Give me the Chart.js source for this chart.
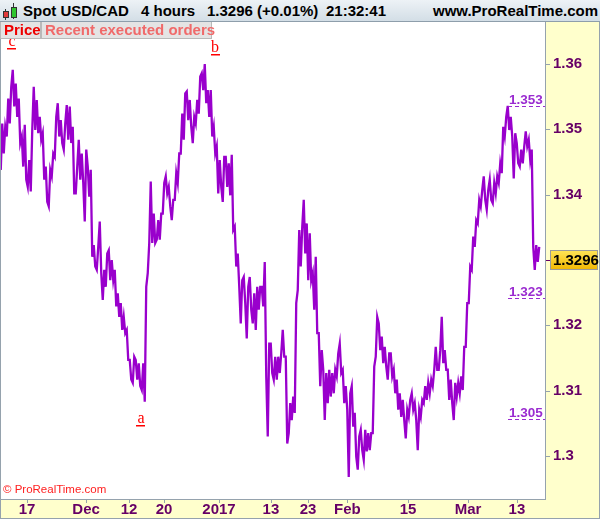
<!DOCTYPE html>
<html><head><meta charset="utf-8">
<script src="https://cdn.jsdelivr.net/npm/chart.js@4/dist/chart.umd.min.js"></script>
<style>
html,body{margin:0;padding:0;background:#fff;}
#wrap{position:relative;width:600px;height:519px;overflow:hidden;font-family:"Liberation Sans",Arial,sans-serif;}
#c{position:absolute;left:0;top:0;}
#hdr{position:absolute;left:0;top:0;width:600px;height:22px;background:linear-gradient(#edf2f6,#d3dee6);border-bottom:1px solid #8e9eab;box-sizing:border-box;}
.ht{position:absolute;top:1px;line-height:20px;font-size:15px;font-weight:bold;color:#000;white-space:nowrap;}
.tab{position:absolute;top:22px;height:17px;box-sizing:border-box;background:#e4e4e4;border:1px solid #b9b9b9;border-top:none;font-size:15px;font-weight:bold;line-height:16px;white-space:nowrap;}
.wick{position:absolute;width:1px;background:#333;}
.body{position:absolute;border:1px solid #333;box-sizing:border-box;}
</style></head>
<body>
<div id="wrap">
<canvas id="c" width="600" height="519"></canvas>
<div id="hdr">
  <div class="wick" style="left:5px;top:9px;height:11px"></div>
  <div class="body" style="left:3px;top:11px;width:6px;height:7px;background:#e03a3a"></div>
  <div class="wick" style="left:13px;top:3px;height:16px"></div>
  <div class="body" style="left:11px;top:7px;width:6px;height:11px;background:#2fc52f"></div>
  <span class="ht" style="left:23px">Spot USD/CAD</span>
  <span class="ht" style="left:141px">4 hours</span>
  <span class="ht" style="left:207px">1.3296 (+0.01%)</span>
  <span class="ht" style="left:326px">21:32:41</span>
  <span class="ht" style="left:433px">www.ProRealTime.com</span>
</div>
<div class="tab" style="left:0;width:41px;color:#ee0000;padding-left:3px">Price</div>
<div class="tab" style="left:41px;width:171px;color:#f06a6a;padding-left:3px">Recent executed orders</div>
</div>
<script>
// half-day slot ranges (high / low), USD/CAD, from mid-Nov 2016 to mid-Mar 2017
const highs = [
1.3509,1.3504,1.3547,1.3565,1.3591,1.3570,1.3547,1.3489,1.3507,1.3453,
1.3499,1.3565,1.3545,1.3519,1.3494,1.3443,1.3438,1.3463,1.3519,1.3540,
1.3514,1.3509,1.3537,1.3535,1.3504,1.3443,1.3484,1.3463,1.3469,1.3443,
1.3438,1.3323,1.3320,1.3359,1.3285,1.3310,1.3315,1.3300,1.3285,1.3249,
1.3234,1.3213,1.3193,1.3147,1.3152,1.3147,1.3142,1.3142,1.3259,1.3326,
1.3420,1.3371,1.3361,1.3371,1.3418,1.3428,1.3412,1.3392,1.3433,1.3463,
1.3524,1.3555,1.3558,1.3545,1.3519,1.3545,1.3581,1.3586,1.3600,1.3560,
1.3560,1.3504,1.3474,1.3453,1.3458,1.3458,1.3448,1.3461,1.3351,1.3310,
1.3269,1.3274,1.3259,1.3274,1.3249,1.3259,1.3259,1.3259,1.3297,1.3172,
1.3172,1.3152,1.3152,1.3157,1.3193,1.3152,1.3081,1.3091,1.3234,1.3346,
1.3351,1.3392,1.3356,1.3341,1.3280,1.3305,1.3188,1.3162,1.3127,1.3132,
1.3127,1.3132,1.3157,1.3172,1.3132,1.3107,1.3096,1.3107,1.3066,1.3030,
1.3040,1.3040,1.3035,1.3035,1.3137,1.3213,1.3203,1.3183,1.3167,1.3157,
1.3157,1.3132,1.3117,1.3096,1.3086,1.3071,1.3086,1.3096,1.3081,1.3071,
1.3086,1.3107,1.3112,1.3117,1.3132,1.3167,1.3162,1.3213,1.3162,1.3132,
1.3117,1.3112,1.3112,1.3122,1.3167,1.3234,1.3290,1.3336,1.3361,1.3392,
1.3407,1.3428,1.3407,1.3423,1.3418,1.3428,1.3448,1.3504,1.3519,1.3536,
1.3519,1.3494,1.3479,1.3469,1.3474,1.3497,1.3484,1.3469,1.3323,1.3320
];
const lows = [
1.3438,1.3463,1.3489,1.3509,1.3535,1.3519,1.3479,1.3443,1.3423,1.3412,
1.3405,1.3499,1.3494,1.3484,1.3423,1.3389,1.3382,1.3428,1.3458,1.3489,
1.3479,1.3469,1.3484,1.3479,1.3402,1.3402,1.3423,1.3418,1.3359,1.3397,
1.3305,1.3290,1.3285,1.3280,1.3239,1.3259,1.3269,1.3269,1.3229,1.3213,
1.3193,1.3188,1.3147,1.3117,1.3112,1.3117,1.3107,1.3101,1.3083,1.3280,
1.3326,1.3326,1.3331,1.3331,1.3371,1.3402,1.3382,1.3361,1.3392,1.3418,
1.3463,1.3484,1.3514,1.3504,1.3479,1.3509,1.3524,1.3560,1.3540,1.3519,
1.3489,1.3463,1.3402,1.3412,1.3389,1.3412,1.3399,1.3346,1.3290,1.3259,
1.3203,1.3234,1.3180,1.3224,1.3203,1.3193,1.3224,1.3229,1.3122,1.3030,
1.3127,1.3117,1.3117,1.3127,1.3152,1.3019,1.3035,1.3055,1.3066,1.3254,
1.3290,1.3310,1.3269,1.3269,1.3224,1.3188,1.3107,1.3132,1.3055,1.3081,
1.3091,1.3096,1.3122,1.3127,1.3081,1.3071,1.2968,1.3045,1.2999,1.2979,
1.3009,1.2994,1.3007,1.3009,1.3035,1.3152,1.3162,1.3142,1.3137,1.3117,
1.3122,1.3096,1.3071,1.3060,1.3055,1.3027,1.3060,1.3071,1.3055,1.3009,
1.3060,1.3081,1.3086,1.3096,1.3107,1.3132,1.3132,1.3142,1.3132,1.3086,
1.3081,1.3055,1.3091,1.3096,1.3101,1.3167,1.3234,1.3285,1.3320,1.3356,
1.3382,1.3392,1.3377,1.3392,1.3387,1.3402,1.3418,1.3433,1.3489,1.3499,
1.3489,1.3425,1.3448,1.3443,1.3448,1.3474,1.3453,1.3320,1.3285,1.3297
];
const xTickLabels = ['17','Dec','12','20','2017','13','23','Feb','15','Mar','13'];
const xTickSlots  = [8.5, 28.2, 42.5, 54.2, 72.5, 89.8, 102.2, 115.3, 135.5, 155.5, 171.8];
const yTickValues = [1.30, 1.31, 1.32, 1.33, 1.34, 1.35, 1.36];
const lastPrice = 1.3296;
const levelValues = [1.3536, 1.3242, 1.3057];
const levelLabels = ['1.353', '1.323', '1.305'];
const waveLabels = ['c', 'b', 'a'];
const waveSlots  = [3.5, 71.2, 46.5];
const waveLevels = [1.3628, 1.3619, 1.3051];

const PURPLE = '#9900cc';
const AXIS_TXT = '#660066';
const BORDER = '#95a2ad';

// Each half-day slot is traced from its low to its high (or high to low),
// in the order that leads toward the next slot.
const pathPoints = [];
highs.forEach((h, i) => {
  const lo = lows[i];
  const mid = (h + lo) / 2;
  const j = i < highs.length - 1 ? i + 1 : i - 1;
  const nextMid = (highs[j] + lows[j]) / 2;
  const up = i < highs.length - 1 ? nextMid >= mid : nextMid < mid;
  const first = up ? lo : h, second = up ? h : lo;
  pathPoints.push({x: i - 0.25, y: first}, {x: i + 0.25, y: second});
});

const overlay = {
  id: 'overlay',
  beforeDraw(chart) {
    const {ctx, chartArea: a, width, height} = chart;
    ctx.save();
    ctx.fillStyle = '#ffffff';
    ctx.fillRect(0, 0, width, height);
    ctx.fillStyle = '#ffffcc';
    ctx.fillRect(a.right, a.top, width - a.right, height - a.top);
    ctx.fillRect(0, a.bottom, a.right, height - a.bottom);
    ctx.restore();
  },
  afterDatasetsDraw(chart) {
    const {ctx, chartArea: a, scales: {x, y}} = chart;
    ctx.save();
    ctx.font = 'bold 13.5px "Liberation Sans", Arial, sans-serif';
    ctx.textAlign = 'left';
    ctx.textBaseline = 'alphabetic';
    levelValues.forEach((v, i) => {
      const py = Math.round(y.getPixelForValue(v)) + 0.5;
      ctx.strokeStyle = '#9a2bd0';
      ctx.lineWidth = 1;
      ctx.setLineDash([4, 3]);
      ctx.beginPath();
      ctx.moveTo(508, py); ctx.lineTo(a.right, py);
      ctx.stroke();
      ctx.setLineDash([]);
      ctx.fillStyle = '#9a2bd0';
      ctx.fillText(levelLabels[i], 509, py - 3);
    });
    ctx.font = '16px "Liberation Serif", "Times New Roman", serif';
    ctx.textAlign = 'center';
    waveLabels.forEach((t, i) => {
      const px = x.getPixelForValue(waveSlots[i]);
      const py = y.getPixelForValue(waveLevels[i]);
      ctx.fillStyle = '#ff0000';
      ctx.fillText(t, px, py);
      ctx.fillRect(Math.round(px - 4.5), Math.round(py + 2), 9, 1.5);
    });
    ctx.font = '11.5px "Liberation Sans", Arial, sans-serif';
    ctx.textAlign = 'left';
    ctx.fillStyle = '#ff2020';
    ctx.fillText('\u00a9 ProRealTime.com', 3, 493);
    ctx.restore();
  },
  afterDraw(chart) {
    const {ctx, chartArea: a, scales: {x, y}, width, height} = chart;
    ctx.save();
    ctx.strokeStyle = BORDER;
    ctx.lineWidth = 1;
    ctx.beginPath();
    ctx.moveTo(0.5, a.top); ctx.lineTo(0.5, height);
    ctx.moveTo(a.right + 0.5, a.top); ctx.lineTo(a.right + 0.5, a.bottom + 1);
    ctx.moveTo(0, a.bottom + 0.5); ctx.lineTo(a.right + 1, a.bottom + 0.5);
    ctx.moveTo(width - 0.5, a.top); ctx.lineTo(width - 0.5, height);
    ctx.moveTo(0, height - 0.5); ctx.lineTo(width, height - 0.5);
    yTickValues.forEach(v => {
      const py = Math.round(y.getPixelForValue(v)) + 0.5;
      ctx.moveTo(a.right + 1, py); ctx.lineTo(a.right + 5, py);
    });
    xTickSlots.forEach(v => {
      const px = Math.round(x.getPixelForValue(v)) + 0.5;
      ctx.moveTo(px, a.bottom + 1); ctx.lineTo(px, a.bottom + 4);
    });
    ctx.stroke();
    const py = Math.round(y.getPixelForValue(lastPrice));
    ctx.fillStyle = '#660066';
    ctx.fillRect(a.right + 1, py - 3, 4, 1);
    const g = ctx.createLinearGradient(0, py - 13, 0, py + 7);
    g.addColorStop(0, '#ffe65a');
    g.addColorStop(1, '#f2b600');
    ctx.fillStyle = g;
    ctx.fillRect(550, py - 13, 47, 20);
    ctx.strokeStyle = '#9a9a9a';
    ctx.strokeRect(550.5, py - 12.5, 47, 19);
    ctx.fillStyle = '#000';
    ctx.font = 'bold 15px "Liberation Sans", Arial, sans-serif';
    ctx.textAlign = 'left';
    ctx.textBaseline = 'middle';
    ctx.fillText(lastPrice.toFixed(4), 553, py - 2);
    ctx.restore();
  }
};

new Chart(document.getElementById('c'), {
  type: 'line',
  data: {
    datasets: [{
      data: pathPoints,
      borderColor: PURPLE,
      borderWidth: 2.3,
      pointRadius: 0,
      tension: 0,
      fill: false
    }]
  },
  options: {
    responsive: false,
    animation: false,
    devicePixelRatio: 1,
    layout: {padding: {top: 22, left: 0, right: 0, bottom: 0}},
    plugins: {legend: {display: false}, tooltip: {enabled: false}},
    scales: {
      x: {
        type: 'linear',
        min: -0.5,
        max: 181.17,
        grid: {display: false, drawTicks: false},
        border: {display: false},
        afterBuildTicks: s => { s.ticks = xTickSlots.map(v => ({value: v})); },
        afterFit: s => { s.height = 20; },
        ticks: {
          autoSkip: false,
          maxRotation: 0,
          padding: 2,
          color: AXIS_TXT,
          font: {family: '"Liberation Sans", Arial, sans-serif', size: 15, weight: 'bold'},
          callback: (v, i) => xTickLabels[i]
        }
      },
      y: {
        position: 'right',
        min: 1.29342,
        max: 1.36643,
        grid: {display: false, drawTicks: false},
        border: {display: false},
        afterBuildTicks: s => { s.ticks = yTickValues.map(v => ({value: v})); },
        afterFit: s => { s.width = 55; },
        ticks: {
          padding: 8,
          color: AXIS_TXT,
          font: {family: '"Liberation Sans", Arial, sans-serif', size: 15, weight: 'bold'},
          callback: v => String(Number(v.toFixed(2)))
        }
      }
    }
  },
  plugins: [overlay]
});
</script>
</body></html>
